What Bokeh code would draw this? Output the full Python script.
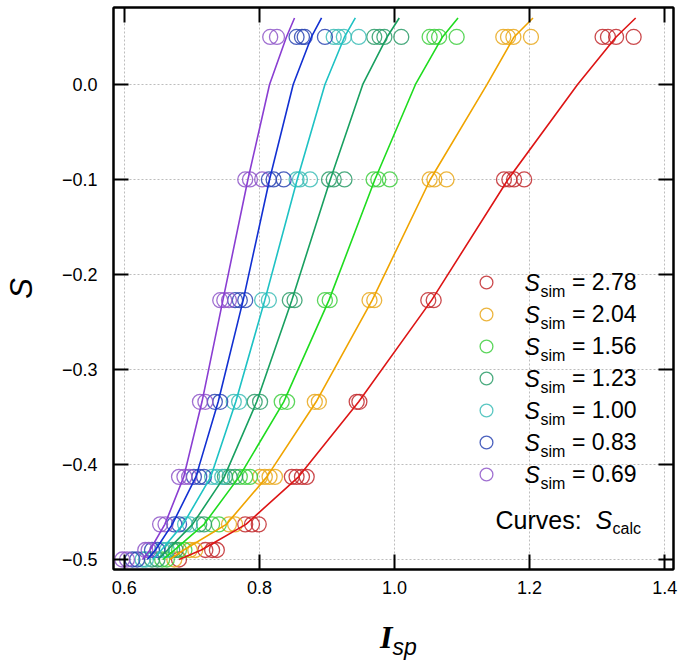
import math
from bokeh.plotting import figure
from bokeh.models import (Range1d, LinearAxis, FixedTicker, Label, Legend,
                          LegendItem, CustomJSTickFormatter, Div)
from bokeh.layouts import column
from bokeh.embed import file_html
from bokeh.resources import INLINE

# ---------------- data ----------------
x_ticks = [0.6, 0.8, 1.0, 1.2, 1.4]
x_tick_labels = ["0.6", "0.8", "1.0", "1.2", "1.4"]
y_ticks = [-0.5, -0.4, -0.3, -0.2, -0.1, 0.0]
y_tick_labels = ["\u22120.5", "\u22120.4", "\u22120.3", "\u22120.2", "\u22120.1", "0.0"]

s_sim_labels = ["2.78", "2.04", "1.56", "1.23", "1.00", "0.83", "0.69"]

# S levels of the simulated points (bottom to top)
S_levels = [-0.5, -0.49, -0.463, -0.413, -0.334, -0.227, -0.1, 0.05]

# I_sp of simulated points, one list per S level
sim_278 = [[0.681], [0.720, 0.730, 0.737], [0.779, 0.789, 0.799],
           [0.848, 0.855, 0.863, 0.870], [0.944, 0.948], [1.050, 1.058],
           [1.162, 1.170, 1.177, 1.192], [1.308, 1.316, 1.328, 1.354]]
sim_204 = [[0.674], [0.697, 0.705], [0.755, 0.764],
           [0.801, 0.808, 0.815, 0.823], [0.882, 0.888], [0.963, 0.970],
           [1.052, 1.059, 1.077], [1.161, 1.168, 1.176, 1.202]]
sim_156 = [[0.656, 0.663], [0.681, 0.689], [0.730, 0.740],
           [0.771, 0.779, 0.786], [0.833, 0.841], [0.897, 0.904],
           [0.969, 0.976, 0.993], [1.052, 1.059, 1.066, 1.092]]
sim_123 = [[0.641, 0.649], [0.671, 0.676], [0.711, 0.718],
           [0.749, 0.756, 0.764], [0.793, 0.801], [0.845, 0.852],
           [0.903, 0.910, 0.926], [0.970, 0.978, 0.985, 1.010]]
sim_100 = [[0.627, 0.632], [0.656, 0.663], [0.690, 0.697],
           [0.730, 0.737, 0.745], [0.762, 0.770], [0.804, 0.814],
           [0.855, 0.860, 0.875], [0.910, 0.917, 0.925, 0.947]]
sim_083 = [[0.612, 0.619], [0.641, 0.649], [0.674, 0.681],
           [0.703, 0.711, 0.718], [0.734, 0.742], [0.764, 0.771, 0.779],
           [0.814, 0.821, 0.836], [0.855, 0.863, 0.867, 0.897]]
sim_069 = [[0.597, 0.604], [0.631, 0.636], [0.653, 0.661],
           [0.681, 0.689, 0.696], [0.712, 0.720], [0.742, 0.748, 0.755],
           [0.779, 0.786, 0.804], [0.816, 0.826]]

# calculated curves S_calc
S_curve = [-0.5, -0.49, -0.463, -0.413, -0.334, -0.227, -0.1, 0.0, 0.05, 0.07]
calc_278 = [0.681, 0.714, 0.780, 0.858, 0.947, 1.055, 1.168, 1.271, 1.328, 1.357]
calc_204 = [0.667, 0.688, 0.751, 0.811, 0.884, 0.967, 1.053, 1.137, 1.177, 1.205]
calc_156 = [0.657, 0.674, 0.718, 0.770, 0.836, 0.903, 0.971, 1.031, 1.071, 1.094]
calc_123 = [0.650, 0.664, 0.701, 0.748, 0.796, 0.848, 0.905, 0.953, 0.989, 1.007]
calc_100 = [0.642, 0.655, 0.687, 0.728, 0.765, 0.808, 0.856, 0.897, 0.926, 0.942]
calc_083 = [0.634, 0.646, 0.671, 0.706, 0.739, 0.776, 0.815, 0.850, 0.877, 0.892]
calc_069 = [0.627, 0.638, 0.660, 0.688, 0.715, 0.746, 0.783, 0.815, 0.840, 0.852]

marker_colors = ["#c22a2e", "#e9a81c", "#3fcf3f", "#2b9c68", "#3dbdb7", "#2b45b3", "#8f57c9"]
line_colors = ["#dd1515", "#f0a400", "#1fdc1f", "#18a060", "#1ec2c4", "#1230d2", "#8a3ed2"]

sims = [sim_278, sim_204, sim_156, sim_123, sim_100, sim_083, sim_069]
calcs = [calc_278, calc_204, calc_156, calc_123, calc_100, calc_083, calc_069]

# ---------------- figure ----------------
FONT = "Liberation Sans"
FRAME_H = 562
p = figure(width=680, height=612,
           x_range=Range1d(0.584, 1.413), y_range=Range1d(-0.5105, 0.081),
           output_backend="svg", toolbar_location=None,
           min_border_left=111, min_border_right=7,
           min_border_top=7, min_border_bottom=43)
p.outline_line_color = "black"
p.outline_line_width = 2
p.background_fill_color = "white"

# grid
p.xgrid.ticker = FixedTicker(ticks=x_ticks)
p.ygrid.ticker = FixedTicker(ticks=y_ticks)
for g in (p.xgrid, p.ygrid):
    g.grid_line_color = "#bdbdbd"
    g.grid_line_dash = "2 2"
    g.grid_line_width = 1


def style_axis(ax, ticks, labels, show):
    ax.ticker = FixedTicker(ticks=ticks)
    ax.major_tick_in = 15
    ax.major_tick_out = 0
    ax.minor_tick_line_color = None
    ax.major_tick_line_width = 2
    ax.major_tick_line_color = "black"
    ax.axis_line_width = 2
    ax.axis_line_color = "black"
    if show:
        ax.major_label_overrides = {t: l for t, l in zip(ticks, labels)}
        ax.major_label_text_font = FONT
        ax.major_label_text_font_size = "18px"
        ax.major_label_text_color = "black"
    else:
        ax.formatter = CustomJSTickFormatter(code="return ''")
        ax.major_label_standoff = 0


style_axis(p.xaxis[0], x_ticks, x_tick_labels, True)
style_axis(p.yaxis[0], y_ticks, y_tick_labels, True)
p.xaxis[0].major_label_standoff = 11
p.yaxis[0].major_label_standoff = 16

# y axis title
p.yaxis[0].axis_label = "S"
p.yaxis[0].axis_label_text_font = FONT
p.yaxis[0].axis_label_text_font_style = "italic"
p.yaxis[0].axis_label_text_font_size = "31px"
p.yaxis[0].axis_label_text_color = "black"
p.yaxis[0].axis_label_standoff = 20

top_ax = LinearAxis()
right_ax = LinearAxis()
style_axis(top_ax, x_ticks, x_tick_labels, False)
style_axis(right_ax, y_ticks, y_tick_labels, False)
p.add_layout(top_ax, "above")
p.add_layout(right_ax, "right")

# ---------------- data glyphs ----------------
renderers = []
for sim, mc in zip(sims, marker_colors):
    xs, ys = [], []
    for lvl, vals in zip(S_levels, sim):
        for v in vals:
            xs.append(v)
            ys.append(lvl)
    r = p.scatter(xs, ys, marker="circle", size=15, fill_color=None,
                  line_color=mc, line_width=1.3, line_alpha=0.85)
    renderers.append(r)

for calc, lc in zip(calcs, line_colors):
    p.line(calc, S_curve, line_color=lc, line_width=1.6)

# ---------------- legend ----------------
row0 = 275          # first row centre, px from frame top
pitch = 32
n = len(s_sim_labels)
items = [LegendItem(label="= " + lab, renderers=[r])
         for lab, r in zip(s_sim_labels, renderers)]
legend = Legend(items=items,
                location=(354, FRAME_H - (row0 - pitch // 2 + n * pitch)),
                glyph_width=38, glyph_height=pitch, spacing=0,
                label_standoff=67, padding=0, margin=0,
                border_line_color=None, background_fill_alpha=0,
                label_text_font=FONT, label_text_font_size="23px",
                label_text_color="black")
p.add_layout(legend)

for i in range(n):
    yc = FRAME_H - (row0 + pitch * i)
    p.add_layout(Label(x=411, y=yc, x_units="screen", y_units="screen",
                       text="S", text_font=FONT, text_font_style="italic",
                       text_font_size="23px", text_color="black",
                       text_baseline="middle"))
    p.add_layout(Label(x=427, y=yc - 9, x_units="screen", y_units="screen",
                       text="sim", text_font=FONT, text_font_size="16px",
                       text_color="black", text_baseline="middle"))

p.add_layout(Label(x=382, y=50, x_units="screen", y_units="screen",
                   text="Curves:", text_font=FONT, text_font_size="25px",
                   text_color="black", text_baseline="middle"))
p.add_layout(Label(x=482, y=50, x_units="screen", y_units="screen",
                   text="S", text_font=FONT, text_font_style="italic",
                   text_font_size="25px", text_color="black",
                   text_baseline="middle"))
p.add_layout(Label(x=499, y=41, x_units="screen", y_units="screen",
                   text="calc", text_font=FONT, text_font_size="16px",
                   text_color="black", text_baseline="middle"))

# ---------------- x axis title (below the figure) ----------------
xlabel = Div(
    text=('<div style="padding-left:380px;padding-top:9px;line-height:32px;'
          'font-size:32px;color:black;white-space:nowrap;">'
          '<span style="font-family:\'Liberation Serif\';font-weight:bold;'
          'font-style:italic;font-size:32px;">I</span>'
          '<span style="font-family:\'Liberation Sans\';font-style:italic;'
          'font-size:23px;position:relative;top:7px;">sp</span></div>'),
    width=680, height=50, margin=(0, 0, 0, 0))

layout = column(p, xlabel, spacing=0)
open("out.html", "w").write(file_html(layout, INLINE))
